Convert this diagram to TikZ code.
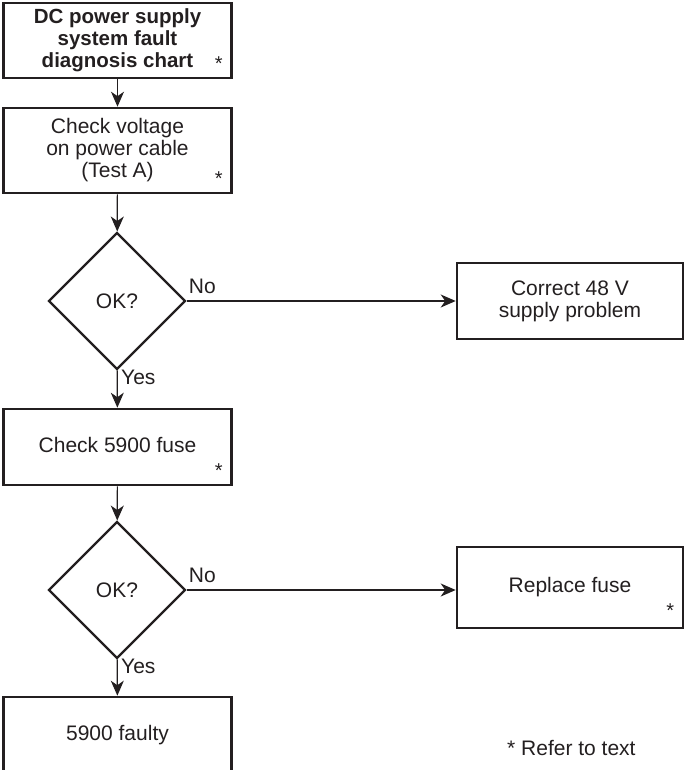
\documentclass[tikz,border=0pt]{standalone}
\usepackage{fontspec}
\setmainfont{Liberation Sans}
\usetikzlibrary{shapes.geometric,arrows.meta}
\definecolor{ink}{HTML}{231F20}
\begin{document}
\begin{tikzpicture}[x=1pt,y=-1pt,
  every node/.style={text=ink},
  txt/.style={font=\fontsize{21}{22}\selectfont, align=center},
  box/.style={draw=ink, line width=2.6pt, inner sep=0pt, txt},
  dia/.style={draw=ink, line width=2.4pt, diamond, minimum width=137pt, minimum height=137pt, inner sep=0pt, txt},
  conn/.style={draw=ink, line width=1.2pt, -{Stealth[length=15pt,width=13pt,inset=4.5pt]}},
  lbl/.style={font=\fontsize{21}{22}\selectfont, inner sep=0pt},
  star/.style={font=\fontsize{20}{21.5}\selectfont, inner sep=0pt, anchor=base}]
\useasboundingbox (0,0) rectangle (684,770);

\node[box, minimum width=228pt, minimum height=75pt, font=\bfseries\fontsize{20.5}{22}\selectfont] (b1) at (117.5,40.5) {DC power supply\\system fault\\diagnosis chart};
\node[box, minimum width=228pt, minimum height=85pt] (b2) at (117.5,150.5) {Check voltage\\on power cable\\(Test A)};
\node[dia] (d1) at (117,301) {OK?};
\node[box, minimum width=228pt, minimum height=76pt] (b3) at (117.5,447) {\raisebox{4pt}{Check 5900 fuse}};
\node[dia] (d2) at (117,590) {OK?};
\node[box, minimum width=228pt, minimum height=76pt] (b4) at (117.5,735) {5900 faulty};
\node[box, minimum width=226pt, minimum height=76pt] (r1) at (570,301) {Correct 48 V\\supply problem};
\node[box, minimum width=226pt, minimum height=81pt] (r2) at (570,587.5) {\raisebox{5pt}{Replace fuse}};

\node[star] (s1) at ([shift={(-14,-8.5)}]b1.south east) {*};
\node[star] (s2) at ([shift={(-14,-8.5)}]b2.south east) {*};
\node[star] (s3) at ([shift={(-14,-8.5)}]b3.south east) {*};
\node[star] (s4) at ([shift={(-14,-11.5)}]r2.south east) {*};

\draw[conn] (b1) -- (b2);
\draw[conn] (b2) -- (d1);
\draw[conn] (d1) -- (b3);
\draw[conn] (b3) -- (d2);
\draw[conn] (d2) -- (b4);
\draw[conn] (d1.east) -- (d1.east -| r1.west);
\draw[conn] (d2.east) -- (d2.east -| r2.west);

\node[lbl, anchor=base west] (n1) at ([shift={(2,-8)}]d1.east) {No};
\node[lbl, anchor=base west] (y1) at ([shift={(4,14)}]d1.south) {Yes};
\node[lbl, anchor=base west] (n2) at ([shift={(2,-8)}]d2.east) {No};
\node[lbl, anchor=base west] (y2) at ([shift={(4,14)}]d2.south) {Yes};

\node[lbl, anchor=base west] (note) at (507,755) {* Refer to text};
\end{tikzpicture}
\end{document}
